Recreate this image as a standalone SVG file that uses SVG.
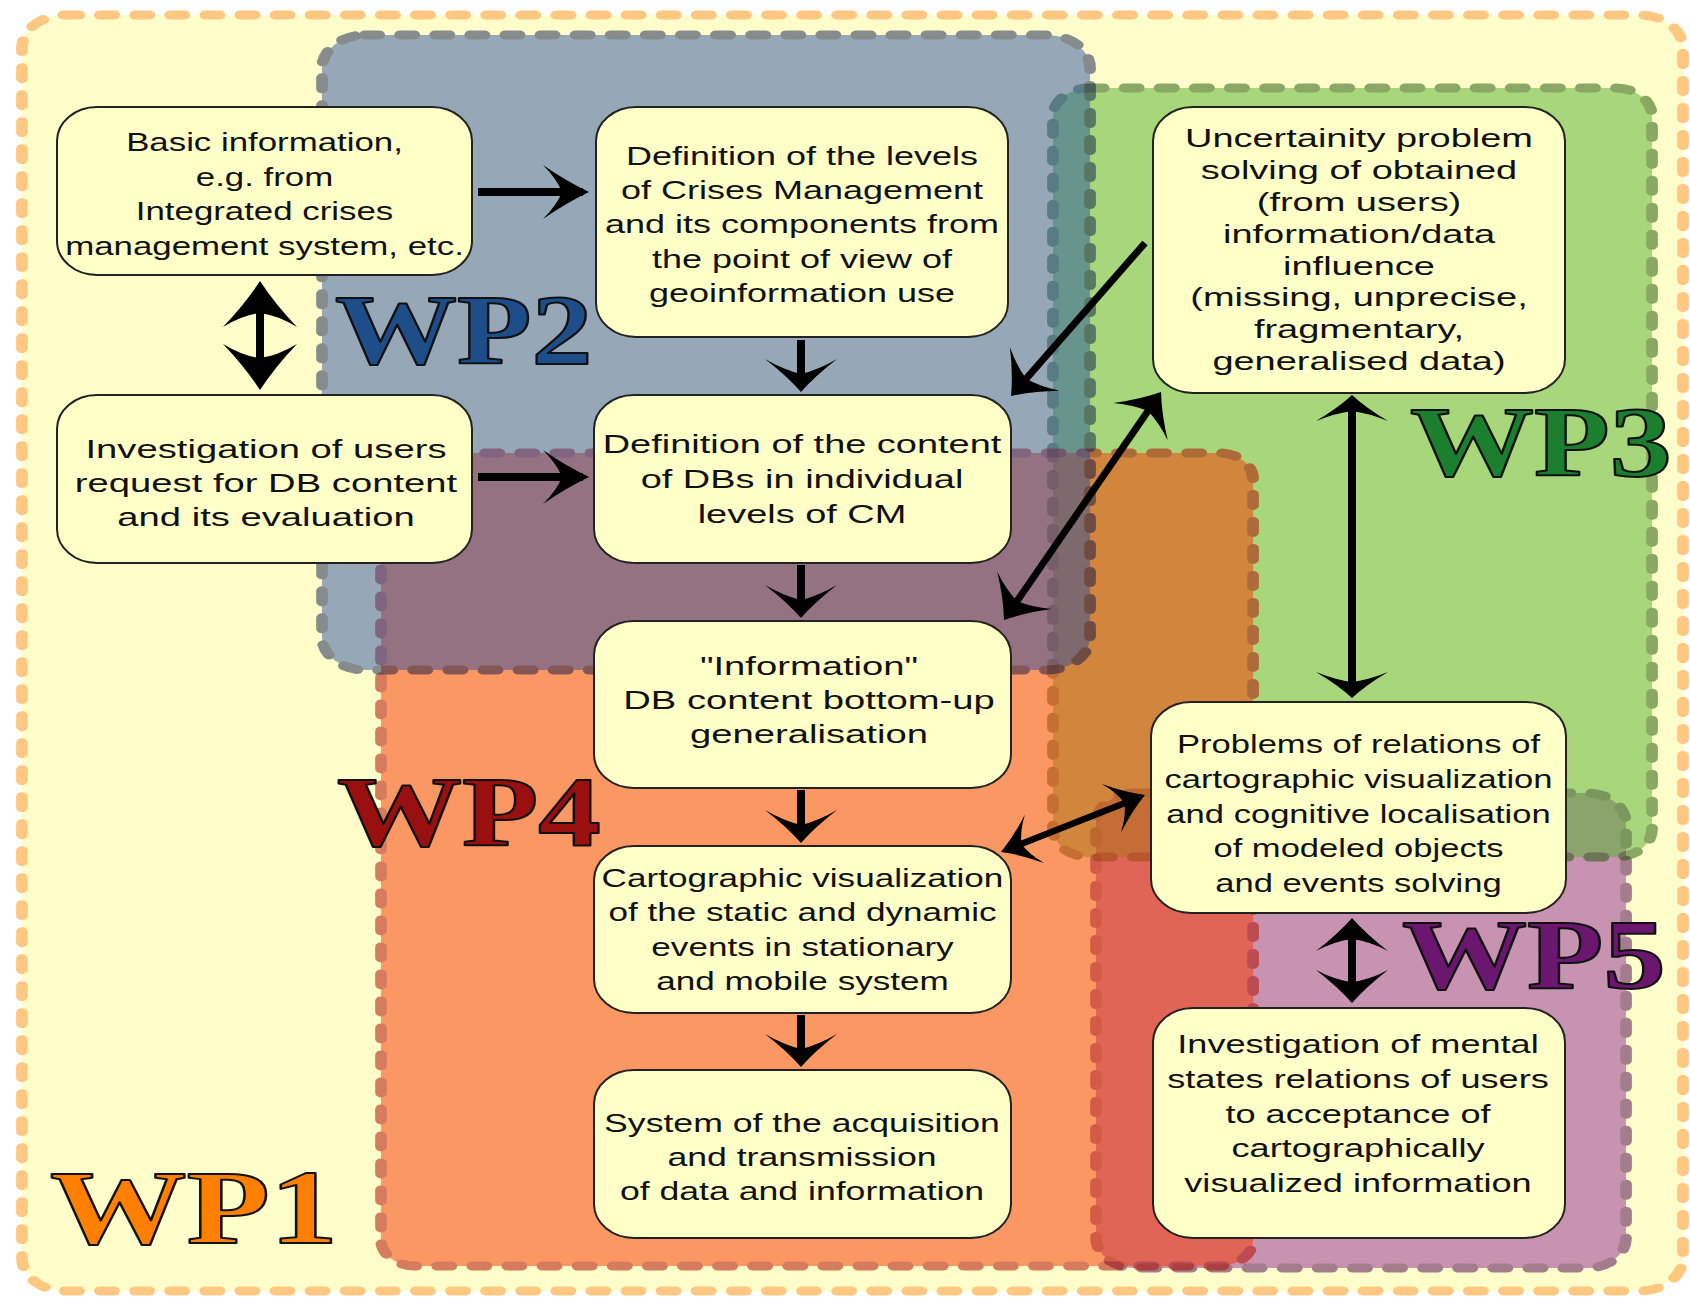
<svg xmlns="http://www.w3.org/2000/svg" width="1690" height="1298" viewBox="0 0 1690 1298">
<style>
.wpbox{stroke-width:9;stroke-dasharray:11 16;stroke-linecap:round;stroke-linejoin:round}
.node rect{fill:#ffffc8;stroke:#222;stroke-width:2}
.t{font-family:"Liberation Sans",Arial,sans-serif;font-size:26px;fill:#111;text-anchor:middle}
.wpl{font-family:"Liberation Serif","Times New Roman",serif;font-weight:bold;font-size:100px;stroke:#111;stroke-width:2;stroke-linejoin:round}
.con{stroke:#000;stroke-width:8;fill:none}
.head{fill:#000}
</style>
<defs>
<marker id="mH" markerUnits="userSpaceOnUse" markerWidth="60" markerHeight="60" refX="-6" refY="0" orient="auto-start-reverse" overflow="visible"><path class="head" d="M0,0 Q-23,-11 -46,-27 Q-32,-13 -27,0 Q-32,13 -46,27 Q-23,11 0,0Z"/></marker>
<marker id="mV" markerUnits="userSpaceOnUse" markerWidth="60" markerHeight="60" refX="-6" refY="0" orient="auto-start-reverse" overflow="visible"><path class="head" d="M0,0 Q-16,-14 -33,-36 Q-22,-17 -18,0 Q-22,17 -33,36 Q-16,14 0,0Z"/></marker>
<marker id="mJ" markerUnits="userSpaceOnUse" markerWidth="60" markerHeight="60" refX="-6" refY="0" orient="auto-start-reverse" overflow="visible"><path class="head" d="M0,0 Q-16,-14 -33,-36 Q-23,-17 -21,0 Q-23,17 -33,36 Q-16,14 0,0Z"/></marker>
<marker id="mAB" markerUnits="userSpaceOnUse" markerWidth="60" markerHeight="60" refX="-6" refY="0" orient="auto-start-reverse" overflow="visible"><path class="head" d="M0,0 Q-23,-15 -46,-37 Q-34,-17 -32,0 Q-34,17 -46,37 Q-23,15 0,0Z"/></marker>
<marker id="mS" markerUnits="userSpaceOnUse" markerWidth="60" markerHeight="60" refX="-6" refY="0" orient="auto-start-reverse" overflow="visible"><path class="head" d="M0,0 Q-13,-14 -26,-36 Q-18,-16 -16,0 Q-18,16 -26,36 Q-13,14 0,0Z"/></marker>
<marker id="mD" markerUnits="userSpaceOnUse" markerWidth="60" markerHeight="60" refX="-6" refY="0" orient="auto-start-reverse" overflow="visible"><path class="head" d="M0,0 Q-18,-13 -36,-33 Q-26,-15 -23,0 Q-26,15 -36,33 Q-18,13 0,0Z"/></marker>
<marker id="mF" markerUnits="userSpaceOnUse" markerWidth="60" markerHeight="60" refX="-6" refY="0" orient="auto-start-reverse" overflow="visible"><path class="head" d="M0,0 Q-18,-10 -36,-26 Q-25,-12 -22,0 Q-25,12 -36,26 Q-18,10 0,0Z"/></marker>
</defs>
<rect x="0" y="0" width="1690" height="1298" fill="#ffffff"/>

<g id="wp1">
<rect class="wpbox" transform="scale(1.3 1)" x="16.9" y="15" width="1277.7" height="1276" rx="33" fill="#fffdca" stroke="#ffc882"/>
</g>
<g id="wp5" opacity="0.5">
<rect class="wpbox" transform="scale(1.3 1)" x="843.1" y="793" width="407.7" height="475" rx="30" fill="#912b98" stroke="#4b0050"/>
</g>
<g id="wp3" opacity="0.5">
<rect class="wpbox" transform="scale(1.3 1)" x="810" y="88" width="460.8" height="769" rx="28" fill="#51b32c" stroke="#195400"/>
</g>
<g id="wp4" opacity="0.53">
<rect class="wpbox" transform="scale(1.3 1)" x="293.1" y="453" width="670.8" height="813" rx="26" fill="#f93e08" stroke="#b30c00"/>
</g>
<g id="wp2" opacity="0.47">
<rect class="wpbox" transform="scale(1.3 1)" x="247.7" y="35" width="590.8" height="635" rx="33" fill="#224aa6" stroke="#000e48"/>
</g>

<g id="labels">
<text class="wpl" transform="translate(50,1243) scale(1.3 1)" style="font-size:105px" fill="#ff8000">WP1</text>
<text class="wpl" transform="translate(335,363) scale(1.22 1)" fill="#1d4e89">WP2</text>
<text class="wpl" transform="translate(1410,475) scale(1.24 1)" fill="#1b7f2f">WP3</text>
<text class="wpl" transform="translate(337,845) scale(1.25 1)" fill="#9a1010">WP4</text>
<text class="wpl" transform="translate(1402,988) scale(1.25 1)" fill="#6b176f">WP5</text>
</g>

<g id="connectors">
<path class="con" d="M478,192 H583" marker-end="url(#mH)"/>
<path class="con" d="M478,477 H583" marker-end="url(#mH)"/>
<path class="con" d="M260,287 V384" marker-start="url(#mAB)" marker-end="url(#mAB)"/>
<path class="con" d="M801,340 V386" marker-end="url(#mV)"/>
<path class="con" d="M801,565 V612" marker-end="url(#mV)"/>
<path class="con" d="M801,790 V837" marker-end="url(#mV)"/>
<path class="con" d="M801,1015 V1061" marker-end="url(#mV)"/>
<path class="con" style="stroke-width:7" d="M1145,243 L1015,391.5" marker-end="url(#mD)"/>
<path class="con" style="stroke-width:7" d="M1007.4,615.1 L1157.6,396.9" marker-start="url(#mD)" marker-end="url(#mD)"/>
<path class="con" d="M1352,401 V692" marker-start="url(#mS)" marker-end="url(#mS)"/>
<path class="con" style="stroke-width:6.5" d="M1006.6,849.8 L1139.4,797.2" marker-start="url(#mF)" marker-end="url(#mF)"/>
<path class="con" d="M1352,924 V997" marker-start="url(#mJ)" marker-end="url(#mJ)"/>
</g>

<g id="nA" class="node">
<rect x="57" y="107" width="415" height="168" rx="40" ry="34"/>
<text class="t" transform="translate(264.5 0) scale(1.34 1)"><tspan x="0" y="151">Basic information,</tspan><tspan x="0" y="186">e.g. from</tspan><tspan x="0" y="220">Integrated crises</tspan><tspan x="0" y="255">management system, etc.</tspan></text>
</g>
<g id="nB" class="node">
<rect x="57" y="395" width="415" height="168" rx="40" ry="34"/>
<text class="t" transform="translate(266 0) scale(1.47 1)"><tspan x="0" y="458">Investigation of users</tspan><tspan x="0" y="492">request for DB content</tspan><tspan x="0" y="526">and its evaluation</tspan></text>
</g>
<g id="nC" class="node">
<rect x="596" y="107" width="412" height="230" rx="40" ry="34"/>
<text class="t" transform="translate(802 0) scale(1.385 1)"><tspan x="0" y="165">Definition of the levels</tspan><tspan x="0" y="199">of Crises Management</tspan><tspan x="0" y="233">and its components from</tspan><tspan x="0" y="268">the point of view of</tspan><tspan x="0" y="302">geoinformation use</tspan></text>
</g>
<g id="nD" class="node">
<rect x="594" y="395" width="417" height="168" rx="40" ry="34"/>
<text class="t" transform="translate(802 0) scale(1.46 1)"><tspan x="0" y="453">Definition of the content</tspan><tspan x="0" y="488">of DBs in individual</tspan><tspan x="0" y="523">levels of CM</tspan></text>
</g>
<g id="nE" class="node">
<rect x="594" y="621" width="417" height="167" rx="40" ry="34"/>
<text class="t" transform="translate(809 0) scale(1.47 1)"><tspan x="0" y="675">"Information"</tspan><tspan x="0" y="709">DB content bottom-up</tspan><tspan x="0" y="743">generalisation</tspan></text>
</g>
<g id="nF" class="node">
<rect x="594" y="846" width="417" height="167" rx="40" ry="34"/>
<text class="t" transform="translate(802.5 0) scale(1.35 1)"><tspan x="0" y="887">Cartographic visualization</tspan><tspan x="0" y="921">of the static and dynamic</tspan><tspan x="0" y="956">events in stationary</tspan><tspan x="0" y="990">and mobile system</tspan></text>
</g>
<g id="nG" class="node">
<rect x="594" y="1070" width="417" height="168" rx="40" ry="34"/>
<text class="t" transform="translate(802 0) scale(1.37 1)"><tspan x="0" y="1132">System of the acquisition</tspan><tspan x="0" y="1166">and transmission</tspan><tspan x="0" y="1200">of data and information</tspan></text>
</g>
<g id="nH" class="node">
<rect x="1153" y="107" width="412" height="286" rx="40" ry="34"/>
<text class="t" transform="translate(1359 0) scale(1.46 1)"><tspan x="0" y="147">Uncertainity problem</tspan><tspan x="0" y="179">solving of obtained</tspan><tspan x="0" y="211">(from users)</tspan><tspan x="0" y="243">information/data</tspan><tspan x="0" y="275">influence</tspan><tspan x="0" y="306">(missing, unprecise,</tspan><tspan x="0" y="338">fragmentary,</tspan><tspan x="0" y="370">generalised data)</tspan></text>
</g>
<g id="nI" class="node">
<rect x="1151" y="702" width="415" height="211" rx="40" ry="34"/>
<text class="t" transform="translate(1358.5 0) scale(1.33 1)"><tspan x="0" y="753">Problems of relations of</tspan><tspan x="0" y="788">cartographic visualization</tspan><tspan x="0" y="823">and cognitive localisation</tspan><tspan x="0" y="857">of modeled objects</tspan><tspan x="0" y="892">and events solving</tspan></text>
</g>
<g id="nJ" class="node">
<rect x="1153" y="1008" width="412" height="230" rx="40" ry="34"/>
<text class="t" transform="translate(1358 0) scale(1.39 1)"><tspan x="0" y="1053">Investigation of mental</tspan><tspan x="0" y="1088">states relations of users</tspan><tspan x="0" y="1123">to acceptance of</tspan><tspan x="0" y="1157">cartographically</tspan><tspan x="0" y="1192">visualized information</tspan></text>
</g>
</svg>
